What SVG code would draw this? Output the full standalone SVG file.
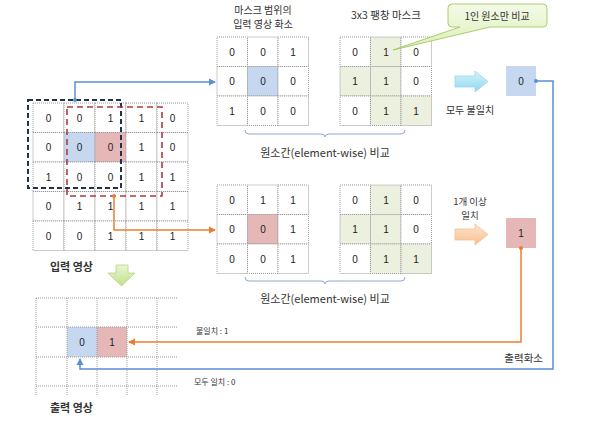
<svg xmlns="http://www.w3.org/2000/svg" width="589" height="433" viewBox="0 0 589 433">
<defs>
<style>
.t{font-family:"Noto Sans CJK KR","Liberation Sans",sans-serif;fill:#333}
.n{font-family:"Liberation Sans","Noto Sans CJK KR",sans-serif;font-size:10px;fill:#222;text-anchor:middle}
.c{fill:#fff;stroke:#9a9a9a;stroke-width:1;stroke-dasharray:1 1}
.b{fill:#c6d8ef}
.r{fill:#e5b8b7}
.g{fill:#ebf1de}
.gl{stroke:#9a9a9a;stroke-width:1;stroke-dasharray:1 1;fill:none}
.br{fill:none;stroke:#8fa9d0;stroke-width:1}
</style>
<linearGradient id="cy" x1="0" y1="0" x2="0" y2="1"><stop offset="0" stop-color="#d6f3fb"/><stop offset="1" stop-color="#8fd8ef"/></linearGradient>
<linearGradient id="or" x1="0" y1="0" x2="0" y2="1"><stop offset="0" stop-color="#fde4cf"/><stop offset="1" stop-color="#f9bf8f"/></linearGradient>
<linearGradient id="gr" x1="0" y1="0" x2="0" y2="1"><stop offset="0" stop-color="#eaf5d2"/><stop offset="1" stop-color="#bfe08a"/></linearGradient>
<linearGradient id="co" x1="0" y1="0" x2="0" y2="1"><stop offset="0" stop-color="#f4fae8"/><stop offset="1" stop-color="#dcefb8"/></linearGradient>
<marker id="ab" markerWidth="8" markerHeight="8" refX="6" refY="4" orient="auto" markerUnits="userSpaceOnUse"><path d="M0,0.5 L7,4 L0,7.5 Z" fill="#5b8fd6"/></marker>
<marker id="ao" markerWidth="8" markerHeight="8" refX="6" refY="4" orient="auto" markerUnits="userSpaceOnUse"><path d="M0,0.5 L7,4 L0,7.5 Z" fill="#ed7d31"/></marker>
</defs>
<rect width="589" height="433" fill="#fff"/>

<g id="input-image">
<g class="cells">
<rect class="c" x="33" y="103" width="31" height="29.5"/><rect class="c" x="64" y="103" width="31" height="29.5"/><rect class="c" x="95" y="103" width="31" height="29.5"/><rect class="c" x="126" y="103" width="31" height="29.5"/><rect class="c" x="157" y="103" width="31" height="29.5"/>
<rect class="c" x="33" y="132.5" width="31" height="29.5"/><rect class="c b" x="64" y="132.5" width="31" height="29.5"/><rect class="c r" x="95" y="132.5" width="31" height="29.5"/><rect class="c" x="126" y="132.5" width="31" height="29.5"/><rect class="c" x="157" y="132.5" width="31" height="29.5"/>
<rect class="c" x="33" y="162" width="31" height="29.5"/><rect class="c" x="64" y="162" width="31" height="29.5"/><rect class="c" x="95" y="162" width="31" height="29.5"/><rect class="c" x="126" y="162" width="31" height="29.5"/><rect class="c" x="157" y="162" width="31" height="29.5"/>
<rect class="c" x="33" y="191.5" width="31" height="29.5"/><rect class="c" x="64" y="191.5" width="31" height="29.5"/><rect class="c" x="95" y="191.5" width="31" height="29.5"/><rect class="c" x="126" y="191.5" width="31" height="29.5"/><rect class="c" x="157" y="191.5" width="31" height="29.5"/>
<rect class="c" x="33" y="221" width="31" height="29.5"/><rect class="c" x="64" y="221" width="31" height="29.5"/><rect class="c" x="95" y="221" width="31" height="29.5"/><rect class="c" x="126" y="221" width="31" height="29.5"/><rect class="c" x="157" y="221" width="31" height="29.5"/>
</g>
<g>
<text class="n" x="48.5" y="121.5">0</text><text class="n" x="79.5" y="121.5">0</text><text class="n" x="110.5" y="121.5">1</text><text class="n" x="141.5" y="121.5">1</text><text class="n" x="172.5" y="121.5">0</text>
<text class="n" x="48.5" y="151">0</text><text class="n" x="79.5" y="151">0</text><text class="n" x="110.5" y="151">0</text><text class="n" x="141.5" y="151">1</text><text class="n" x="172.5" y="151">0</text>
<text class="n" x="48.5" y="180.5">1</text><text class="n" x="79.5" y="180.5">0</text><text class="n" x="110.5" y="180.5">0</text><text class="n" x="141.5" y="180.5">1</text><text class="n" x="172.5" y="180.5">1</text>
<text class="n" x="48.5" y="210">0</text><text class="n" x="79.5" y="210">1</text><text class="n" x="110.5" y="210">1</text><text class="n" x="141.5" y="210">1</text><text class="n" x="172.5" y="210">1</text>
<text class="n" x="48.5" y="239.5">0</text><text class="n" x="79.5" y="239.5">0</text><text class="n" x="110.5" y="239.5">1</text><text class="n" x="141.5" y="239.5">1</text><text class="n" x="172.5" y="239.5">1</text>
</g>
<rect x="28" y="100" width="93" height="88" fill="none" stroke="#1f3350" stroke-width="2" stroke-dasharray="5 3"/>
<rect x="67" y="107" width="95" height="89" fill="none" stroke="#b03a3a" stroke-width="1.6" stroke-dasharray="6 4"/>
<text class="t" x="50" y="271" font-size="11" font-weight="bold">입력 영상</text>
</g>

<g id="window-top">
<text class="t" x="263" y="13.5" font-size="10" text-anchor="middle">마스크 범위의</text>
<text class="t" x="263" y="28" font-size="10" text-anchor="middle">입력 영상 화소</text>
<rect class="c" x="217" y="37" width="30.5" height="29.5"/><rect class="c" x="247.5" y="37" width="30.5" height="29.5"/><rect class="c" x="278" y="37" width="30.5" height="29.5"/>
<rect class="c" x="217" y="66.5" width="30.5" height="29.5"/><rect class="c b" x="247.5" y="66.5" width="30.5" height="29.5"/><rect class="c" x="278" y="66.5" width="30.5" height="29.5"/>
<rect class="c" x="217" y="96" width="30.5" height="29.5"/><rect class="c" x="247.5" y="96" width="30.5" height="29.5"/><rect class="c" x="278" y="96" width="30.5" height="29.5"/>
<text class="n" x="232" y="55.5">0</text><text class="n" x="263" y="55.5">0</text><text class="n" x="293" y="55.5">1</text>
<text class="n" x="232" y="85">0</text><text class="n" x="263" y="85">0</text><text class="n" x="293" y="85">0</text>
<text class="n" x="232" y="114.5">1</text><text class="n" x="263" y="114.5">0</text><text class="n" x="293" y="114.5">0</text>
</g>

<g id="mask-top">
<text class="t" x="386" y="19" font-size="10.5" text-anchor="middle">3x3 팽창 마스크</text>
<rect class="c" x="340" y="37" width="30.5" height="29.5"/><rect class="c g" x="370.5" y="37" width="30.5" height="29.5"/><rect class="c" x="401" y="37" width="30.5" height="29.5"/>
<rect class="c g" x="340" y="66.5" width="30.5" height="29.5"/><rect class="c g" x="370.5" y="66.5" width="30.5" height="29.5"/><rect class="c" x="401" y="66.5" width="30.5" height="29.5"/>
<rect class="c" x="340" y="96" width="30.5" height="29.5"/><rect class="c g" x="370.5" y="96" width="30.5" height="29.5"/><rect class="c g" x="401" y="96" width="30.5" height="29.5"/>
<text class="n" x="355" y="55.5">0</text><text class="n" x="386" y="55.5">1</text><text class="n" x="416" y="55.5">0</text>
<text class="n" x="355" y="85">1</text><text class="n" x="386" y="85">1</text><text class="n" x="416" y="85">0</text>
<text class="n" x="355" y="114.5">0</text><text class="n" x="386" y="114.5">1</text><text class="n" x="416" y="114.5">1</text>
</g>

<g id="compare-top">
<path class="br" d="M245,130 q0,4 4,4 h72 q4,0 4,3 q0,-3 4,-3 h72 q4,0 4,-4"/>
<text class="t" x="325" y="157" font-size="11" text-anchor="middle">원소간(element-wise) 비교</text>
</g>

<g id="callout">
<path d="M452,4 h91 q4,0 4,4 v15 q0,4 -4,4 h-53 L393,50 L460,27 h-8 q-4,0 -4,-4 v-15 q0,-4 4,-4 Z" fill="url(#co)" stroke="#a9cf6a" stroke-width="1"/>
<text class="t" x="497" y="20" font-size="10" text-anchor="middle">1인 원소만 비교</text>
</g>

<g id="result-none">
<path d="M455,76 h20 v-5 l13,10.5 l-13,10.5 v-5 h-20 Z" fill="url(#cy)" stroke="#9fd6ea" stroke-width="0.8"/>
<text class="t" x="470" y="114" font-size="10" text-anchor="middle">모두 불일치</text>
<rect x="506" y="66" width="30" height="30" fill="#c6d8ef"/>
<text class="n" x="521" y="84.5">0</text>
</g>

<g id="window-bottom">
<rect class="c" x="217" y="185" width="30.5" height="29.5"/><rect class="c" x="247.5" y="185" width="30.5" height="29.5"/><rect class="c" x="278" y="185" width="30.5" height="29.5"/>
<rect class="c" x="217" y="214.5" width="30.5" height="29.5"/><rect class="c r" x="247.5" y="214.5" width="30.5" height="29.5"/><rect class="c" x="278" y="214.5" width="30.5" height="29.5"/>
<rect class="c" x="217" y="244" width="30.5" height="29.5"/><rect class="c" x="247.5" y="244" width="30.5" height="29.5"/><rect class="c" x="278" y="244" width="30.5" height="29.5"/>
<text class="n" x="232" y="203.5">0</text><text class="n" x="263" y="203.5">1</text><text class="n" x="293" y="203.5">1</text>
<text class="n" x="232" y="233">0</text><text class="n" x="263" y="233">0</text><text class="n" x="293" y="233">1</text>
<text class="n" x="232" y="262.5">0</text><text class="n" x="263" y="262.5">0</text><text class="n" x="293" y="262.5">1</text>
</g>

<g id="mask-bottom">
<rect class="c" x="340" y="185" width="30.5" height="29.5"/><rect class="c g" x="370.5" y="185" width="30.5" height="29.5"/><rect class="c" x="401" y="185" width="30.5" height="29.5"/>
<rect class="c g" x="340" y="214.5" width="30.5" height="29.5"/><rect class="c g" x="370.5" y="214.5" width="30.5" height="29.5"/><rect class="c" x="401" y="214.5" width="30.5" height="29.5"/>
<rect class="c" x="340" y="244" width="30.5" height="29.5"/><rect class="c g" x="370.5" y="244" width="30.5" height="29.5"/><rect class="c g" x="401" y="244" width="30.5" height="29.5"/>
<text class="n" x="355" y="203.5">0</text><text class="n" x="386" y="203.5">1</text><text class="n" x="416" y="203.5">0</text>
<text class="n" x="355" y="233">1</text><text class="n" x="386" y="233">1</text><text class="n" x="416" y="233">0</text>
<text class="n" x="355" y="262.5">0</text><text class="n" x="386" y="262.5">1</text><text class="n" x="416" y="262.5">1</text>
</g>

<g id="compare-bottom">
<path class="br" d="M245,277 q0,4 4,4 h72 q4,0 4,3 q0,-3 4,-3 h72 q4,0 4,-4"/>
<text class="t" x="325" y="303" font-size="11" text-anchor="middle">원소간(element-wise) 비교</text>
</g>

<g id="result-some">
<text class="t" x="470" y="205" font-size="9.5" text-anchor="middle">1개 이상</text>
<text class="t" x="470" y="219" font-size="9.5" text-anchor="middle">일치</text>
<path d="M455,229 h20 v-5 l13,10.5 l-13,10.5 v-5 h-20 Z" fill="url(#or)" stroke="#f4c095" stroke-width="0.8"/>
<rect x="506" y="218" width="30" height="30" fill="#e5b8b7"/>
<text class="n" x="521" y="236.5">1</text>
</g>

<g id="down-arrow">
<path d="M116,265 h12 v8 h7 l-13.5,13 l-13.5,-13 h8 Z" fill="url(#gr)" stroke="#b5d67e" stroke-width="0.8"/>
</g>

<g id="output-image">
<rect x="67" y="327" width="30" height="30" fill="#c6d8ef"/>
<rect x="97" y="327" width="30" height="30" fill="#e5b8b7"/>
<path class="gl" d="M36,298 H177 M36,327 H177 M36,357 H177 M36,386 H177 M36,298 V396 M67,298 V396 M97,298 V396 M127,298 V396 M157,298 V396"/>
<text class="n" x="82" y="346">0</text>
<text class="n" x="112" y="346">1</text>
<text class="t" x="50" y="412" font-size="11" font-weight="bold">출력 영상</text>
</g>

<g id="connectors">
<circle cx="75" cy="100" r="2" fill="#5b8fd6"/>
<path d="M75,100 V82 H215" fill="none" stroke="#5b8fd6" stroke-width="1.5" marker-end="url(#ab)"/>
<circle cx="114" cy="196" r="2" fill="#ed7d31"/>
<path d="M114,196 V230 H215" fill="none" stroke="#ed7d31" stroke-width="1.5" marker-end="url(#ao)"/>
<circle cx="536" cy="81" r="2" fill="#5b8fd6"/>
<path d="M536,81 H553 V369 H80 V359" fill="none" stroke="#5b8fd6" stroke-width="1.5" marker-end="url(#ab)"/>
<circle cx="521" cy="248" r="2" fill="#ed7d31"/>
<path d="M521,248 V342 H129" fill="none" stroke="#ed7d31" stroke-width="1.5" marker-end="url(#ao)"/>
<text class="t" x="196" y="334" font-size="8">불일치 : 1</text>
<text class="t" x="194" y="385" font-size="8">모두 일치 : 0</text>
<text class="t" x="543" y="362" font-size="10.5" text-anchor="end">출력화소</text>
</g>
</svg>
